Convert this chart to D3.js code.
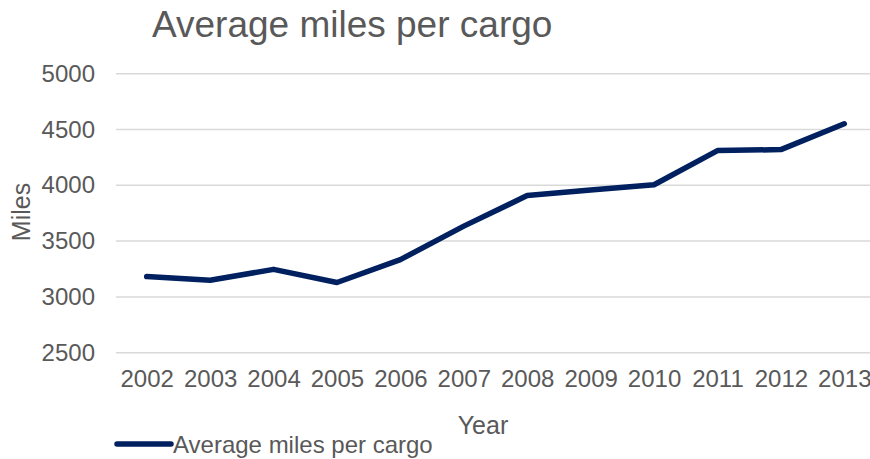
<!DOCTYPE html>
<html>
<head>
<meta charset="utf-8">
<script src="https://cdn.jsdelivr.net/npm/d3@7"></script>
<style>
    body { margin: 0; background: #fff; }
    svg { display: block; font-family: "Liberation Sans", Arial, sans-serif; }
</style>
</head>
<body>
<svg width="870" height="459"></svg>
<script>
const years = ["2002", "2003", "2004", "2005", "2006", "2007", "2008", "2009", "2010", "2011", "2012", "2013"];
const miles = [3182, 3149, 3247, 3129, 3334, 3634, 3908, 3957, 4005, 4311, 4320, 4551];
const yTicks = [2500, 3000, 3500, 4000, 4500, 5000];

const svg = d3.select("svg");
const textColor = "#595959";
const lineColor = "#002060";

const x = d3.scalePoint()
    .domain(years)
    .range([146.7, 844.3]);

const y = d3.scaleLinear()
    .domain([2500, 5000])
    .range([352.7, 73.7]);

// gridlines
svg.append("g")
    .selectAll("line")
    .data(yTicks)
    .join("line")
    .attr("x1", 116)
    .attr("x2", 876)
    .attr("y1", d => y(d))
    .attr("y2", d => y(d))
    .attr("stroke", "#d9d9d9")
    .attr("stroke-width", 1.5);

// y axis labels
const yAxis = svg.append("g")
    .attr("transform", "translate(95,0)")
    .call(d3.axisLeft(y).tickValues(yTicks).tickFormat(d3.format("d")).tickSize(0).tickPadding(0));
yAxis.select(".domain").remove();
yAxis.selectAll("text")
    .attr("font-size", 24)
    .attr("font-family", "Liberation Sans, Arial, sans-serif")
    .attr("fill", textColor);

// x axis labels
const xAxis = svg.append("g")
    .attr("transform", "translate(0,370)")
    .call(d3.axisBottom(x).tickSize(0).tickPadding(0));
xAxis.select(".domain").remove();
xAxis.selectAll("text")
    .attr("font-size", 24)
    .attr("font-family", "Liberation Sans, Arial, sans-serif")
    .attr("fill", textColor);

// line
const line = d3.line()
    .x((d, i) => x(years[i]))
    .y(d => y(d));

svg.append("path")
    .datum(miles)
    .attr("fill", "none")
    .attr("stroke", lineColor)
    .attr("stroke-width", 5.5)
    .attr("stroke-linejoin", "round")
    .attr("stroke-linecap", "round")
    .attr("d", line);

// title
svg.append("text")
    .attr("x", 152)
    .attr("y", 37)
    .attr("font-size", 37)
    .attr("fill", textColor)
    .text("Average miles per cargo");

// axis titles
svg.append("text")
    .attr("transform", "translate(30,212) rotate(-90)")
    .attr("text-anchor", "middle")
    .attr("font-size", 25)
    .attr("fill", textColor)
    .text("Miles");

svg.append("text")
    .attr("x", 483)
    .attr("y", 434)
    .attr("text-anchor", "middle")
    .attr("font-size", 25)
    .attr("fill", textColor)
    .text("Year");

// legend
svg.append("line")
    .attr("x1", 117)
    .attr("x2", 171)
    .attr("y1", 444)
    .attr("y2", 444)
    .attr("stroke", lineColor)
    .attr("stroke-width", 5.5)
    .attr("stroke-linecap", "round");

svg.append("text")
    .attr("x", 173)
    .attr("y", 453)
    .attr("font-size", 24)
    .attr("fill", textColor)
    .text("Average miles per cargo");
</script>
</body>
</html>
